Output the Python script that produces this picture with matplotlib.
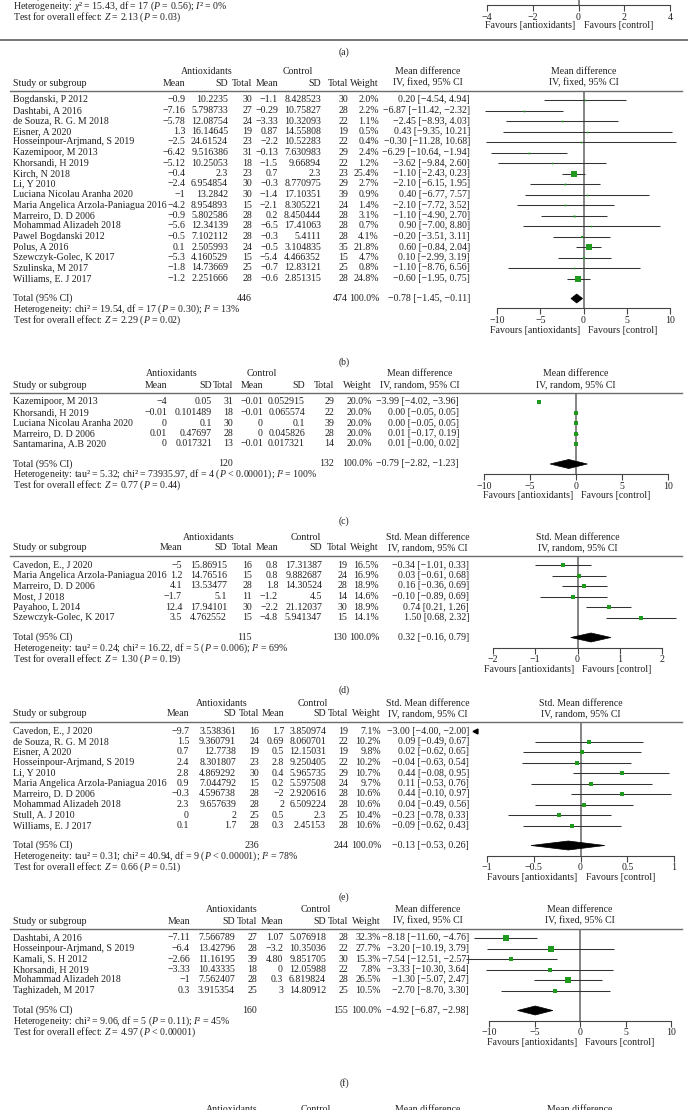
import matplotlib
matplotlib.use("Agg")
import matplotlib.pyplot as plt
from matplotlib.patches import Polygon

plt.rcParams['font.family'] = ['Liberation Serif', 'DejaVu Serif']
plt.rcParams['mathtext.fontset'] = 'custom'
plt.rcParams['mathtext.rm'] = 'Liberation Serif'
plt.rcParams['mathtext.it'] = 'Liberation Serif:italic'

W, H = 688, 1110
FS = 7.1
TXT = '#231f20'
GREEN = '#1f9a1f'
M = '\u2212'

# ---------------- data (b) ----------------
b_study = ["Bogdanski, P 2012", "Dashtabi, A 2016", "de Souza, R. G. M 2018", "Eisner, A 2020",
           "Hosseinpour-Arjmand, S 2019", "Kazemipoor, M 2013", "Khorsandi, H 2019", "Kirch, N 2018",
           "Li, Y 2010", "Luciana Nicolau Aranha 2020", "Maria Angelica Arzola-Paniagua 2016",
           "Marreiro, D. D 2006", "Mohammad Alizadeh 2018", "Pawel Bogdanski 2012", "Polus, A 2016",
           "Szewczyk-Golec, K 2017", "Szulinska, M 2017", "Williams, E. J 2017"]
b_am = ["-0.9", "-7.16", "-5.78", "1.3", "-2.5", "-6.42", "-5.12", "-0.4", "-2.4", "-1", "-4.2",
        "-0.9", "-5.6", "-0.5", "0.1", "-5.3", "-1.8", "-1.2"]
b_asd = ["10.2235", "5.798733", "12.08754", "16.14645", "24.61524", "9.516386", "10.25053", "2.3",
         "6.954854", "13.2842", "8.954893", "5.802586", "12.34139", "7.102112", "2.505993",
         "4.160529", "14.73669", "2.251666"]
b_an = [30, 27, 24, 19, 23, 31, 18, 23, 30, 30, 15, 28, 28, 28, 24, 15, 25, 28]
b_cm = ["-1.1", "-0.29", "-3.33", "0.87", "-2.2", "-0.13", "-1.5", "0.7", "-0.3", "-1.4", "-2.1",
        "0.2", "-6.5", "-0.3", "-0.5", "-5.4", "-0.7", "-0.6"]
b_csd = ["8.428523", "10.75827", "10.32093", "14.55808", "10.52283", "7.630983", "9.66894", "2.3",
         "8.770975", "17.10351", "8.305221", "8.450444", "17.41063", "5.4111", "3.104835",
         "4.466352", "12.83121", "2.851315"]
b_cn = [30, 28, 22, 19, 22, 29, 22, 23, 29, 39, 24, 28, 28, 28, 35, 15, 25, 28]
b_w = [2.0, 2.2, 1.1, 0.5, 0.4, 2.4, 1.2, 25.4, 2.7, 0.9, 1.4, 3.1, 0.7, 4.1, 21.8, 4.7, 0.8, 24.8]
b_md = [0.20, -6.87, -2.45, 0.43, -0.30, -6.29, -3.62, -1.10, -2.10, 0.40, -2.10, -1.10, 0.90,
        -0.20, 0.60, 0.10, -1.10, -0.60]
b_lo = [-4.54, -11.42, -8.93, -9.35, -11.28, -10.64, -9.84, -2.43, -6.15, -6.77, -7.72, -4.90,
        -7.00, -3.51, -0.84, -2.99, -8.76, -1.95]
b_hi = [4.94, -2.32, 4.03, 10.21, 10.68, -1.94, 2.60, 0.23, 1.95, 7.57, 3.52, 2.70, 8.80, 3.11,
        2.04, 3.19, 6.56, 0.75]
b_total = [446, 474, -0.78, -1.45, -0.11]

# ---------------- data (c) ----------------
c_study = ["Kazemipoor, M 2013", "Khorsandi, H 2019", "Luciana Nicolau Aranha 2020",
           "Marreiro, D. D 2006", "Santamarina, A.B 2020"]
c_am = ["-4", "-0.01", "0", "0.01", "0"]
c_asd = ["0.05", "0.101489", "0.1", "0.47697", "0.017321"]
c_an = [31, 18, 30, 28, 13]
c_cm = ["-0.01", "-0.01", "0", "0", "-0.01"]
c_csd = ["0.052915", "0.065574", "0.1", "0.045826", "0.017321"]
c_cn = [29, 22, 39, 28, 14]
c_w = [20.0, 20.0, 20.0, 20.0, 20.0]
c_md = [-3.99, 0.00, 0.00, 0.01, 0.01]
c_lo = [-4.02, -0.05, -0.05, -0.17, -0.00]
c_hi = [-3.96, 0.05, 0.05, 0.19, 0.02]
c_total = [120, 132, -0.79, -2.82, 1.23]
c_total_txt = "-0.79 [-2.82, -1.23]"

# ---------------- data (d) ----------------
d_study = ["Cavedon, E., J 2020", "Maria Angelica Arzola-Paniagua 2016", "Marreiro, D. D 2006",
           "Most, J 2018", "Payahoo, L 2014", "Szewczyk-Golec, K 2017"]
d_am = ["-5", "1.2", "4.1", "-1.7", "12.4", "3.5"]
d_asd = ["15.86915", "14.76516", "13.53477", "5.1", "17.94101", "4.762552"]
d_an = [16, 15, 28, 11, 30, 15]
d_cm = ["0.8", "0.8", "1.8", "-1.2", "-2.2", "-4.8"]
d_csd = ["17.31387", "9.882687", "14.30524", "4.5", "21.12037", "5.941347"]
d_cn = [19, 24, 28, 14, 30, 15]
d_w = [16.5, 16.9, 18.9, 14.6, 18.9, 14.1]
d_md = [-0.34, 0.03, 0.16, -0.10, 0.74, 1.50]
d_lo = [-1.01, -0.61, -0.36, -0.89, 0.21, 0.68]
d_hi = [0.33, 0.68, 0.69, 0.69, 1.26, 2.32]
d_total = [115, 130, 0.32, -0.16, 0.79]

# ---------------- data (e) ----------------
e_study = ["Cavedon, E., J 2020", "de Souza, R. G. M 2018", "Eisner, A 2020",
           "Hosseinpour-Arjmand, S 2019", "Li, Y 2010", "Maria Angelica Arzola-Paniagua 2016",
           "Marreiro, D. D 2006", "Mohammad Alizadeh 2018", "Stull, A. J 2010", "Williams, E. J 2017"]
e_am = ["-9.7", "1.5", "0.7", "2.4", "2.8", "0.9", "-0.3", "2.3", "0", "0.1"]
e_asd = ["3.538361", "9.360791", "12.7738", "8.301807", "4.869292", "7.044792", "4.596738",
         "9.657639", "2", "1.7"]
e_an = [16, 24, 19, 23, 30, 15, 28, 28, 25, 28]
e_cm = ["1.7", "0.69", "0.5", "2.8", "0.4", "0.2", "-2", "2", "0.5", "0.3"]
e_csd = ["3.850974", "8.060701", "12.15031", "9.250405", "5.965735", "5.597508", "2.920616",
         "6.509224", "2.3", "2.45153"]
e_cn = [19, 22, 19, 22, 29, 24, 28, 28, 25, 28]
e_w = [7.1, 10.2, 9.8, 10.2, 10.7, 9.7, 10.6, 10.6, 10.4, 10.6]
e_md = [-3.00, 0.09, 0.02, -0.04, 0.44, 0.11, 0.44, 0.04, -0.23, -0.09]
e_lo = [-4.00, -0.49, -0.62, -0.63, -0.08, -0.53, -0.10, -0.49, -0.78, -0.62]
e_hi = [-2.00, 0.67, 0.65, 0.54, 0.95, 0.76, 0.97, 0.56, 0.33, 0.43]
e_total = [236, 244, -0.13, -0.53, 0.26]

# ---------------- data (f) ----------------
f_study = ["Dashtabi, A 2016", "Hosseinpour-Arjmand, S 2019", "Kamali, S. H 2012",
           "Khorsandi, H 2019", "Mohammad Alizadeh 2018", "Taghizadeh, M 2017"]
f_am = ["-7.11", "-6.4", "-2.66", "-3.33", "-1", "0.3"]
f_asd = ["7.566789", "13.42796", "11.16195", "10.43335", "7.562407", "3.915354"]
f_an = [27, 28, 39, 18, 28, 25]
f_cm = ["1.07", "-3.2", "4.80", "0", "0.3", "3"]
f_csd = ["5.076918", "10.35036", "9.851705", "12.05988", "6.819824", "14.80912"]
f_cn = [28, 22, 30, 22, 28, 25]
f_w = [32.3, 27.7, 15.3, 7.8, 26.5, 10.5]
f_md = [-8.18, -3.20, -7.54, -3.33, -1.30, -2.70]
f_lo = [-11.60, -10.19, -12.51, -10.30, -5.07, -8.70]
f_hi = [-4.76, 3.79, -2.57, 3.64, 2.47, 3.30]
f_total = [160, 155, -4.92, -6.87, -2.98]

a_het = r"Heterogeneity: $\chi$² = 15.43, df = 17 ($P$ = 0.56); $I$² = 0%"
a_test = r"Test for overall effect: $Z$ = 2.13 ($P$ = 0.03)"
b_het = r"Heterogeneity: chi² = 19.54, df = 17 ($P$ = 0.30); $I$² = 13%"
b_test = r"Test for overall effect: $Z$ = 2.29 ($P$ = 0.02)"
c_het = r"Heterogeneity: tau² = 5.32; chi² = 73935.97, df = 4 ($P$ < 0.00001); $I$² = 100%"
c_test = r"Test for overall effect: $Z$ = 0.77 ($P$ = 0.44)"
d_het = r"Heterogeneity: tau² = 0.24; chi² = 16.22, df = 5 ($P$ = 0.006); $I$² = 69%"
d_test = r"Test for overall effect: $Z$ = 1.30 ($P$ = 0.19)"
e_het = r"Heterogeneity: tau² = 0.31; chi² = 40.94, df = 9 ($P$ < 0.00001); $I$² = 78%"
e_test = r"Test for overall effect: $Z$ = 0.66 ($P$ = 0.51)"
f_het = r"Heterogeneity: chi² = 9.06, df = 5 ($P$ = 0.11); $I$² = 45%"
f_test = r"Test for overall effect: $Z$ = 4.97 ($P$ < 0.00001)"


def mm(s):
    return s.replace('-', M)


fig = plt.figure(figsize=(W / 100, H / 100), dpi=100)
fig.patch.set_facecolor('white')
cv = fig.add_axes([0, 0, 1, 1])
cv.set_xlim(0, W)
cv.set_ylim(H, 0)
cv.axis('off')


def txt(x, y, s, ha='left'):
    cv.text(x, y, s, ha=ha, va='center', fontsize=FS, color=TXT)


def forest_axes(x0, x1, top, bot, lim, ticks, tlabels):
    ax = fig.add_axes([x0 / W, 1 - bot / H, (x1 - x0) / W, (bot - top) / H])
    ax.set_xlim(*lim)
    ax.set_ylim(bot, top)
    ax.patch.set_alpha(0)
    for s in ['top', 'left', 'right']:
        ax.spines[s].set_visible(False)
    ax.spines['bottom'].set_color('#444444')
    ax.spines['bottom'].set_linewidth(0.8)
    ax.set_yticks([])
    ax.set_xticks(ticks)
    ax.set_xticklabels([mm(t) for t in tlabels], fontsize=FS, color=TXT)
    ax.tick_params(axis='x', direction='out', length=4, width=0.8, color='#444444', pad=1.5)
    ax.axvline(0, color='#6f6f6f', lw=1.2, zorder=1)
    return ax


def favours(ax_x0, ax_x1, lim, y):
    z = ax_x0 + (0 - lim[0]) / (lim[1] - lim[0]) * (ax_x1 - ax_x0)
    txt(z - 3, y, "Favours [antioxidants]", ha='right')
    txt(z + 5, y, "Favours [control]", ha='left')


def panel(h1, p, cols, heads, xr, lim, ticks, tlabels, md_title, method, label, label_y):
    rs = 10.5
    rule = h1 + 19
    first = h1 + 28
    n = len(p['study'])
    ys = [first + i * rs for i in range(n)]
    tot_y = ys[-1] + 20
    ax_y = tot_y + 10
    mr, sdr, tr, cmr, csdr, ctr, wr, cir = cols
    ac, cc, mdc = heads
    pc = (xr[0] + xr[1]) / 2
    # header
    txt(ac, h1, "Antioxidants", ha='center')
    txt(cc, h1, "Control", ha='center')
    txt(mdc, h1, md_title, ha='center')
    txt(pc, h1, md_title, ha='center')
    y2 = h1 + 11
    txt(13, y2, "Study or subgroup")
    for x, s in zip([mr, sdr, tr, cmr, csdr, ctr, wr], ["Mean", "SD", "Total", "Mean", "SD", "Total", "Weight"]):
        txt(x, y2, s, ha='right')
    txt(mdc, y2, method, ha='center')
    txt(pc, y2, method, ha='center')
    cv.plot([10, 682], [rule, rule], color='#6b6b6b', lw=1.0)
    # rows
    for i, y in enumerate(ys):
        txt(13, y, p['study'][i])
        txt(mr, y, mm(p['am'][i]), ha='right')
        txt(sdr, y, p['asd'][i], ha='right')
        txt(tr, y, str(p['an'][i]), ha='right')
        txt(cmr, y, mm(p['cm'][i]), ha='right')
        txt(csdr, y, p['csd'][i], ha='right')
        txt(ctr, y, str(p['cn'][i]), ha='right')
        txt(wr, y, "%.1f%%" % p['w'][i], ha='right')
        txt(cir, y, mm("%.2f [%.2f, %.2f]" % (p['md'][i], p['lo'][i], p['hi'][i])), ha='right')
    an_t, cn_t, est, tlo, thi = p['total']
    txt(13, tot_y, "Total (95% CI)")
    txt(tr, tot_y, str(an_t), ha='right')
    txt(ctr, tot_y, str(cn_t), ha='right')
    txt(wr, tot_y, "100.0%", ha='right')
    txt(cir, tot_y, mm(p.get('total_txt', "%.2f [%.2f, %.2f]" % (est, tlo, thi))), ha='right')
    txt(13, tot_y + 10.5, p['het'])
    txt(13, tot_y + 21.5, p['test'])
    # forest
    ax = forest_axes(xr[0], xr[1], rule, ax_y, lim, ticks, tlabels)
    for i, y in enumerate(ys):
        if p['hi'][i] < lim[0]:
            off = 0.065 * (lim[1] - lim[0])
            ax.plot(lim[0] - off, y, marker='<', color='black', ms=3.5, clip_on=False)
            continue
        ax.hlines(y, p['lo'][i], p['hi'][i], color='#333333', lw=0.75, clip_on=False, zorder=2)
        side = max(1.6, 1.1 * p['w'][i] ** 0.5) * 0.72
        ax.plot(p['md'][i], y, marker='s', color=GREEN, ms=side, mew=0, clip_on=False, zorder=3)
    ax.add_patch(Polygon([(tlo, tot_y), (est, tot_y - 4.5), (thi, tot_y), (est, tot_y + 4.5)],
                         closed=True, facecolor='black', edgecolor='black', lw=0.5, zorder=4,
                         clip_on=False))
    favours(xr[0], xr[1], lim, ax_y + 22)
    txt(344, label_y, label, ha='center')


def pack(pre, extra=None):
    g = globals()
    p = {k: g[pre + '_' + k] for k in ['study', 'am', 'asd', 'an', 'cm', 'csd', 'cn', 'w', 'md', 'lo', 'hi', 'total', 'het', 'test']}
    if extra:
        p.update(extra)
    return p


# ---------------- panel (a), only its lower edge is in view ----------------
txt(13, -4, "Total (95% CI)")
txt(13, 6, a_het)
txt(13, 17.5, a_test)
a_lim = (-4, 4)
ax_a = forest_axes(487, 670, -5, 5, a_lim, [-4, -2, 0, 2, 4], ["-4", "-2", "0", "2", "4"])
favours(487, 670, a_lim, 26)
cv.plot([0, W], [40, 40], color='#6b6b6b', lw=1.3)
txt(344, 52, "(a)", ha='center')

panel(72, pack('b'), (185, 228, 252, 278, 321, 348, 379, 470), (207, 298, 428), (497, 670),
      (-10, 10), [-10, -5, 0, 5, 10], ["-10", "-5", "0", "5", "10"],
      "Mean difference", "IV, fixed, 95% CI", "(b)", 362)
panel(374, pack('c', {'total_txt': c_total_txt}), (167, 212, 233, 263, 305, 334, 372, 459),
      (172, 262, 420), (484, 668), (-10, 10), [-10, -5, 0, 5, 10], ["-10", "-5", "0", "5", "10"],
      "Mean difference", "IV, random, 95% CI", "(c)", 521)
panel(537, pack('d'), (182, 227, 252, 278, 322, 347, 379, 469), (209, 306, 428), (493, 662),
      (-2, 2), [-2, -1, 0, 1, 2], ["-2", "-1", "0", "1", "2"],
      "Std. Mean difference", "IV, random, 95% CI", "(d)", 690)
panel(703, pack('e'), (189, 236, 259, 284, 326, 348, 381, 469), (222, 313, 428), (487, 674),
      (-1, 1), [-1, -0.5, 0, 0.5, 1], ["-1", "-0.5", "0", "0.5", "1"],
      "Std. Mean difference", "IV, random, 95% CI", "(e)", 897)
panel(910, pack('f'), (190, 235, 257, 283, 326, 348, 381, 469), (232, 316, 428), (489, 671),
      (-10, 10), [-10, -5, 0, 5, 10], ["-10", "-5", "0", "5", "10"],
      "Mean difference", "IV, fixed, 95% CI", "(f)", 1083)

# header of the next panel, cut off by the bottom edge
for x, s in [(232, "Antioxidants"), (316, "Control"), (428, "Mean difference"), (580, "Mean difference")]:
    txt(x, 1109, s, ha='center')

fig.savefig("out.png", dpi=100)
